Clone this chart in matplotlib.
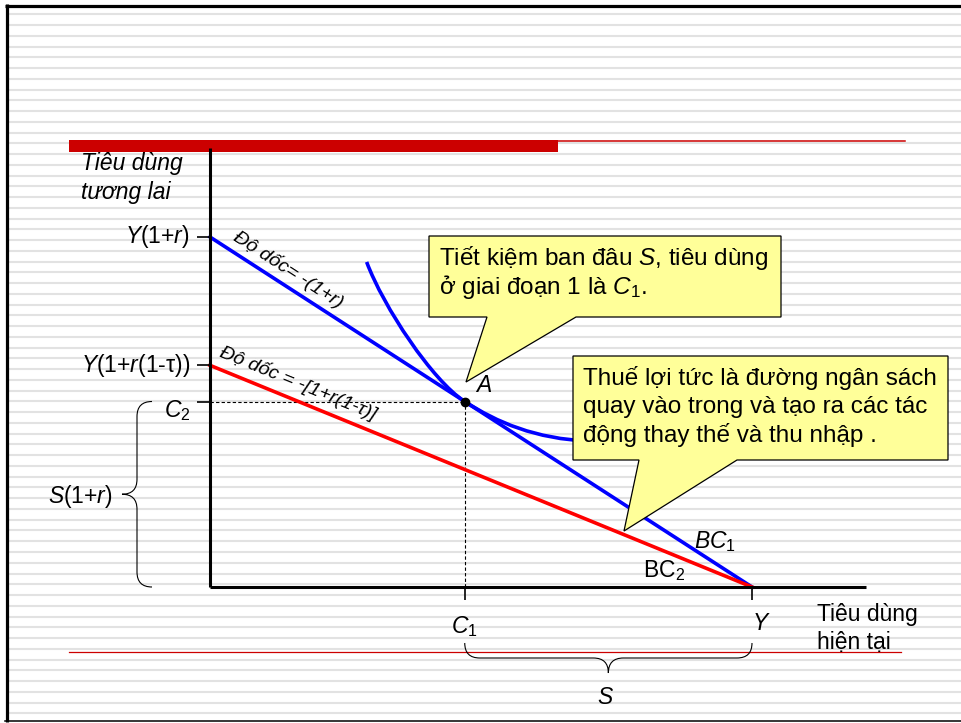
import numpy as np
import matplotlib
matplotlib.use('Agg')
import matplotlib.pyplot as plt
import matplotlib.transforms as mtransforms
import matplotlib.markers as mmarkers
from matplotlib.path import Path
from matplotlib.patches import PathPatch, Polygon, Rectangle

plt.rcParams['font.family'] = ['Liberation Sans', 'DejaVu Sans']
plt.rcParams['mathtext.fontset'] = 'custom'
plt.rcParams['mathtext.rm'] = 'Liberation Sans'
plt.rcParams['mathtext.it'] = 'Liberation Sans:italic'

# diagram values (arbitrary units)
income = 100.0          # Y  (present consumption intercept)
future_max = 150.0      # Y(1+r)
future_tax = 95.0       # Y(1+r(1-tau))
c1 = 47.0               # first period consumption
c2 = future_max * (1 - c1 / income)

# indifference curve, cubic bezier control points through A = (c1, c2)
icurve_x = [28.9, 32.0, 41.0, c1, 53.0, 60.0, 70.0]
icurve_y = [139.3, 120.0, 88.5, c2, 70.5, 63.5, 62.5]

axis_x_max = 121.0
axis_y_max = 188.0

W, H = 961, 723
ORIGIN = (210, 587)     # pixel position of the diagram origin
sx = 542 / income       # px per unit, x
sy = 350 / future_max   # px per unit, y

fig = plt.figure(figsize=(W / 100, H / 100), dpi=100)
ax = fig.add_axes([0, 0, 1, 1])
ax.set_xlim(-ORIGIN[0] / sx, (W - ORIGIN[0]) / sx)
ax.set_ylim(-(H - ORIGIN[1]) / sy, ORIGIN[1] / sy)
ax.set_autoscale_on(False)
ax.axis('off')

# pixel coordinates, origin top-left
px = mtransforms.Affine2D().scale(1 / W, -1 / H).translate(0, 1) + fig.transFigure

def to_px(x, y):
    return ORIGIN[0] + x * sx, ORIGIN[1] - y * sy

# slide background: stripes, frame, red rules
for yy in np.arange(14.3, 720, 10.754):
    ax.plot([8, W], [yy, yy], transform=px, color='#e2e2e2', lw=1.5, zorder=0)
ax.plot([5, W], [5.5, 5.5], transform=px, color='black', lw=2.3, zorder=1,
        solid_capstyle='butt')
ax.plot([6.5, 6.5], [4, 721.5], transform=px, color='black', lw=2.3, zorder=1,
        solid_capstyle='butt')
ax.plot([5, W], [721, 721], transform=px, color='black', lw=1.1, zorder=1)
ax.add_patch(Rectangle((69, 140), 489, 12, transform=px, color='#cc0000',
                       lw=0, zorder=1))
ax.plot([558, 905], [140.7, 140.7], transform=px, color='#cc0000', lw=1.1, zorder=1)
ax.plot([69, 901], [652.3, 652.3], transform=px, color='#cc0000', lw=0.9, zorder=1)

# axes
ax.plot([0, 0], [0, axis_y_max], color='black', lw=2.2, zorder=4,
        solid_capstyle='butt')
ax.plot([0, axis_x_max], [0, 0], color='black', lw=2.2, zorder=4,
        solid_capstyle='butt')
ax.plot([0, 0, 0], [future_max, future_tax, c2], ls='', color='black',
        marker=mmarkers.TICKLEFT, ms=9.5, mew=1.2, zorder=4)
ax.plot([c1, income], [0, 0], ls='', color='black',
        marker=mmarkers.TICKDOWN, ms=9.5, mew=1.2, zorder=4)

# guide lines to A
ax.plot([0, c1], [c2, c2], color='black', lw=0.8, ls=(0, (3, 2)), zorder=2)
ax.plot([c1, c1], [0, c2], color='black', lw=0.8, ls=(0, (3, 2)), zorder=2)

# budget lines
ax.plot([0, income], [future_max, 0], color='#0000ff', lw=2.6, zorder=3)
ax.plot([0, income], [future_tax, 0], color='#ff0000', lw=2.6, zorder=3)

# indifference curve
codes = [Path.MOVETO] + [Path.CURVE4] * 6
ax.add_patch(PathPatch(Path(np.column_stack([icurve_x, icurve_y]), codes),
                       fill=False, edgecolor='#0000ff', lw=2.6, zorder=3))
ax.plot([c1], [c2], 'o', color='black', ms=6, zorder=4)

# braces
def vbrace(x, y0, y1, w):
    ym = (y0 + y1) / 2
    verts = [(x + w, y0), (x, y0), (x, y0 + w), (x, ym - w), (x, ym), (x - w, ym),
             (x, ym), (x, ym + w), (x, y1 - w), (x, y1), (x + w, y1)]
    cd = [Path.MOVETO, Path.CURVE3, Path.CURVE3, Path.LINETO, Path.CURVE3, Path.CURVE3,
          Path.CURVE3, Path.CURVE3, Path.LINETO, Path.CURVE3, Path.CURVE3]
    return Path(verts, cd)

def hbrace(y, x0, x1, w):
    xm = (x0 + x1) / 2
    verts = [(x0, y - w), (x0, y), (x0 + w, y), (xm - w, y), (xm, y), (xm, y + w),
             (xm, y), (xm + w, y), (x1 - w, y), (x1, y), (x1, y - w)]
    cd = [Path.MOVETO, Path.CURVE3, Path.CURVE3, Path.LINETO, Path.CURVE3, Path.CURVE3,
          Path.CURVE3, Path.CURVE3, Path.LINETO, Path.CURVE3, Path.CURVE3]
    return Path(verts, cd)

_, c2_row = to_px(0, c2)
ax.add_patch(PathPatch(vbrace(137, c2_row, ORIGIN[1], 15), transform=px, fill=False,
                       edgecolor='black', lw=0.8, zorder=2))
c1_col, _ = to_px(c1, 0)
y_col, _ = to_px(income, 0)
ax.add_patch(PathPatch(hbrace(658, c1_col, y_col, 15), transform=px, fill=False,
                       edgecolor='black', lw=0.8, zorder=2))

# callouts
callout1 = [(429, 236), (781, 236), (781, 317), (576, 317), (466, 382), (487, 317), (429, 317)]
callout2 = [(573, 356), (948, 356), (948, 460), (737, 460), (624, 531), (639, 460), (573, 460)]
for pts in (callout1, callout2):
    ax.add_patch(Polygon(pts, closed=True, transform=px, facecolor='#ffff99',
                         edgecolor='black', lw=0.9, zorder=5))

big = 17.5
lab = 16.5
tk = dict(transform=px, zorder=6, color='black')
ax.text(439, 265, r'Tiết kiệm ban đâu $\mathit{S}$, tiêu dùng', fontsize=big, va='baseline', **tk)
ax.text(439, 294, r'ở giai đoạn 1 là $\mathit{C}_{\mathrm{1}}$.', fontsize=big, va='baseline', **tk)
ax.text(583, 385, 'Thuế lợi tức là đường ngân sách', fontsize=big, va='baseline', **tk)
ax.text(583, 413.5, 'quay vào trong và tạo ra các tác', fontsize=big, va='baseline', **tk)
ax.text(583, 442, 'động thay thế và thu nhập .', fontsize=big, va='baseline', **tk)

# axis titles
ax.text(81, 170, 'Tiêu dùng', fontsize=lab, style='italic', va='baseline', **tk)
ax.text(81, 198.5, 'tương lai', fontsize=lab, style='italic', va='baseline', **tk)
ax.text(817, 620.5, 'Tiêu dùng', fontsize=lab, va='baseline', **tk)
ax.text(817, 648.5, 'hiện tại', fontsize=lab, va='baseline', **tk)

# tick labels
ann = dict(textcoords='offset pixels', fontsize=lab, zorder=6)
ax.annotate(r'$\mathit{Y}$(1+$\mathit{r}$)', (0, future_max), (-20, 0),
            ha='right', va='center', **ann)
ax.annotate(r'$\mathit{Y}$(1+$\mathit{r}$(1-τ))', (0, future_tax), (-20, 0),
            ha='right', va='center', **ann)
ax.annotate(r'$\mathit{C}_{\mathrm{2}}$', (0, c2), (-33, -9), ha='center', va='center', **ann)
ax.annotate(r'$\mathit{C}_{\mathrm{1}}$', (c1, 0), (0, -40), ha='center', va='center', **ann)
ax.annotate(r'$\mathit{Y}$', (income, 0), (9, -37), ha='center', va='center', **ann)
ax.annotate(r'$\mathit{A}$', (c1, c2), (19, 16), ha='center', va='center', **ann)

ax.text(80, 497, r'$\mathit{S}$(1+$\mathit{r}$)', fontsize=lab, ha='center', va='center', **tk)
ax.text(606, 697, r'$\mathit{S}$', fontsize=lab, ha='center', va='center', **tk)
ax.text(715, 542, r'$\mathit{BC}_{\mathrm{1}}$', fontsize=lab, ha='center', va='center', **tk)
ax.text(664, 571, r'$\mathrm{BC}_{\mathrm{2}}$', fontsize=lab, ha='center', va='center', **tk)

# slope labels along the budget lines
p0 = ax.transData.transform((0, future_max))
p1 = ax.transData.transform((income, 0))
ang_blue = np.degrees(np.arctan2(p1[1] - p0[1], p1[0] - p0[0]))
p0 = ax.transData.transform((0, future_tax))
ang_red = np.degrees(np.arctan2(p1[1] - p0[1], p1[0] - p0[0]))
ax.text(288, 270, 'Độ dốc= -(1+r)', fontsize=14, style='italic', rotation=ang_blue,
        rotation_mode='anchor', ha='center', va='center', **tk)
ax.text(298, 383, 'Độ dốc = -[1+r(1-τ)]', fontsize=14, style='italic', rotation=ang_red,
        rotation_mode='anchor', ha='center', va='center', **tk)

fig.savefig('out.png', dpi=100)
